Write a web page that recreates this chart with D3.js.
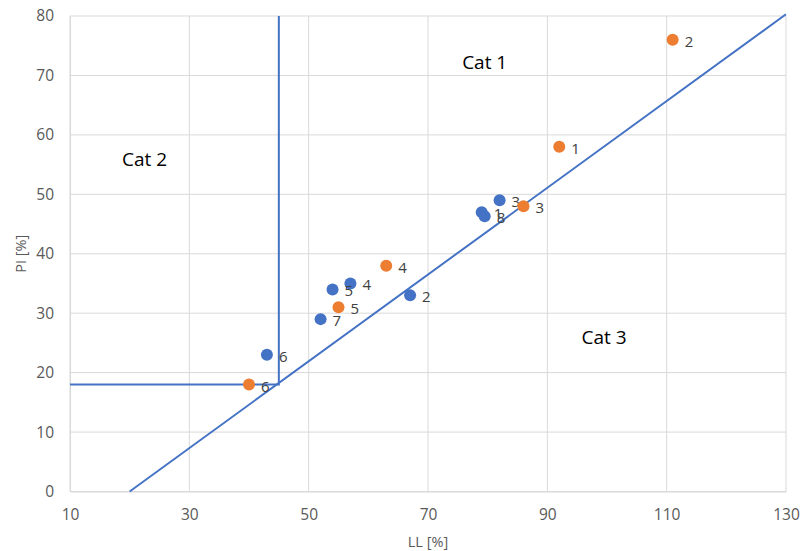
<!DOCTYPE html>
<html>
<head>
<meta charset="utf-8">
<script src="https://cdn.jsdelivr.net/npm/d3@7"></script>
<style>
  body { margin: 0; background: #fff; }
  svg { display: block; font-family: "Open Sans", "Noto Sans", sans-serif; }
</style>
</head>
<body>
<svg id="chart" width="802" height="551"></svg>
<script>
// Tick values
const xTicks = [10, 30, 50, 70, 90, 110, 130];
const yTicks = [0, 10, 20, 30, 40, 50, 60, 70, 80];

// Blue sample series: LL, PI, label
const blueLL = [79, 67, 82, 57, 54, 43, 52, 79.5];
const bluePI = [47, 33, 49, 35, 34, 23, 29, 46.3];
const blueLabels = ["1", "2", "3", "4", "5", "6", "7", "8"];

// Orange sample series
const orangeLL = [92, 111, 86, 63, 55, 40];
const orangePI = [58, 76, 48, 38, 31, 18];
const orangeLabels = ["1", "2", "3", "4", "5", "6"];

// Classification boundaries
const aLineLL = [20, 130];
const aLinePI = [0, 80.3];
const boundLL = [10, 45, 45];
const boundPI = [18, 18, 80];

// Region labels
const regionNames = ["Cat 1", "Cat 2", "Cat 3"];
const regionLL = [79.5, 22.5, 99.5];
const regionPI = [72.3, 56, 26];

const svg = d3.select("#chart");
const x = d3.scaleLinear().domain([10, 130]).range([70, 786]);
const y = d3.scaleLinear().domain([0, 80]).range([491.5, 16]);

const gridColor = "#d9d9d9";
const textColor = "#595959";
const blue = "#4472C4";
const orange = "#ED7D31";

// Gridlines
svg.append("g").selectAll("line").data(yTicks).join("line")
  .attr("x1", x(10)).attr("x2", x(130))
  .attr("y1", d => y(d)).attr("y2", d => y(d))
  .attr("stroke", gridColor).attr("stroke-width", 1);
svg.append("g").selectAll("line").data(xTicks).join("line")
  .attr("y1", y(0)).attr("y2", y(80))
  .attr("x1", d => x(d)).attr("x2", d => x(d))
  .attr("stroke", gridColor).attr("stroke-width", 1);

// Axes
const xAxis = d3.axisBottom(x).tickValues(xTicks).tickSize(0).tickPadding(17);
const yAxis = d3.axisLeft(y).tickValues(yTicks).tickSize(0).tickPadding(16);
const gx = svg.append("g").attr("transform", `translate(0,${y(0)})`).call(xAxis);
const gy = svg.append("g").attr("transform", `translate(${x(10)},0)`).call(yAxis);
[gx, gy].forEach(g => {
  g.select(".domain").attr("stroke", gridColor);
  g.selectAll("text").attr("fill", textColor).style("font-size", "15.5px")
    .style("font-family", "'Open Sans', sans-serif");
});

// Axis titles
svg.append("text").attr("x", x(70)).attr("y", 541)
  .attr("text-anchor", "middle").attr("dominant-baseline", "central")
  .attr("fill", textColor).style("font-size", "14.5px").text("LL [%]");
svg.append("text")
  .attr("transform", `translate(20,${y(40)}) rotate(-90)`)
  .attr("text-anchor", "middle").attr("dominant-baseline", "central")
  .attr("fill", textColor).style("font-size", "14.5px").text("PI [%]");

// Boundary lines
const line = d3.line().x(d => x(d[0])).y(d => y(d[1]));
svg.append("path").datum(aLineLL.map((v, i) => [v, aLinePI[i]]))
  .attr("d", line).attr("fill", "none").attr("stroke", blue).attr("stroke-width", 2);
svg.append("path").datum(boundLL.map((v, i) => [v, boundPI[i]]))
  .attr("d", line).attr("fill", "none").attr("stroke", blue).attr("stroke-width", 2);

// Region labels
svg.append("g").selectAll("text").data(regionNames).join("text")
  .attr("x", (d, i) => x(regionLL[i])).attr("y", (d, i) => y(regionPI[i]))
  .attr("text-anchor", "middle").attr("dominant-baseline", "central")
  .attr("fill", "#000").style("font-size", "19px").text(d => d);

// Sample points with labels
function drawSeries(ll, pi, labels, color) {
  const g = svg.append("g");
  g.selectAll("circle").data(ll).join("circle")
    .attr("cx", d => x(d)).attr("cy", (d, i) => y(pi[i]))
    .attr("r", 6).attr("fill", color);
  g.selectAll("text").data(labels).join("text")
    .attr("x", (d, i) => x(ll[i]) + 12).attr("y", (d, i) => y(pi[i]) + 1)
    .attr("dominant-baseline", "central")
    .attr("fill", "#404040").style("font-size", "15px").text(d => d);
}
drawSeries(blueLL, bluePI, blueLabels, blue);
drawSeries(orangeLL, orangePI, orangeLabels, orange);
</script>
</body>
</html>
